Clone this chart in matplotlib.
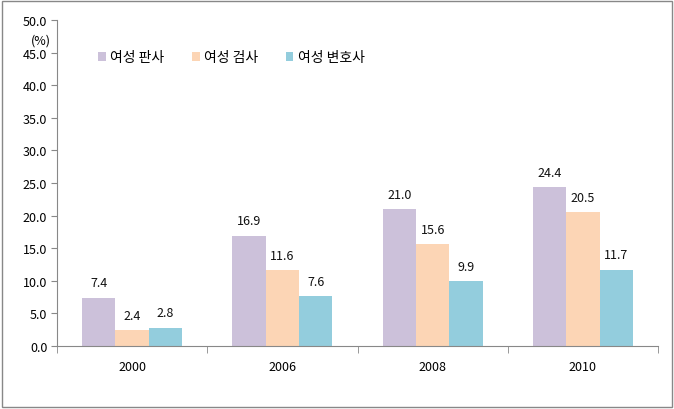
"""Women's share among judges, prosecutors and lawyers, grouped bar chart."""

import matplotlib

matplotlib.use("Agg")

import matplotlib.pyplot as plt
from matplotlib.patches import Rectangle
import numpy as np

plt.rcParams["font.family"] = ["Noto Sans CJK KR", "DejaVu Sans"]

years = ["2000", "2006", "2008", "2010"]
series_names = ["여성 판사", "여성 검사", "여성 변호사"]
judges = [7.4, 16.9, 21.0, 24.4]
prosecutors = [2.4, 11.6, 15.6, 20.5]
lawyers = [2.8, 7.6, 9.9, 11.7]
colors = ["#CCC1DA", "#FCD5B5", "#93CDDD"]
y_ticks = [0, 5, 10, 15, 20, 25, 30, 35, 40, 45, 50]

fig = plt.figure(figsize=(6.74, 4.10), dpi=100)
ax = fig.add_axes([0.0846, 0.1537, 0.8917, 0.7951])

x = np.arange(len(years))
width = 0.222
for i, (values, name) in enumerate(zip([judges, prosecutors, lawyers], series_names)):
    offset = (i - 1) * width
    bars = ax.bar(x + offset, values, width, color=colors[i], label=name)
    for bar, v in zip(bars, values):
        ax.annotate(f"{v:.1f}", (bar.get_x() + bar.get_width() / 2, v),
                    xytext=(0, 6), textcoords="offset points",
                    ha="center", va="bottom", fontsize=9, color="#111111")

ax.set_xlim(-0.5, len(years) - 0.5)
ax.set_ylim(0, 50)
ax.set_yticks(y_ticks)
ax.set_yticklabels([f"{t:.1f}" for t in y_ticks], fontsize=9)

# category labels centred, tick marks on category boundaries
ax.set_xticks(x)
ax.set_xticklabels(years, fontsize=9)
ax.tick_params(axis="x", length=0, pad=10)
ax.set_xticks(np.arange(len(years) + 1) - 0.5, minor=True)
ax.tick_params(axis="x", which="minor", length=5, color="#888888")
ax.tick_params(axis="y", length=4, color="#888888", pad=3)

for side in ["top", "right"]:
    ax.spines[side].set_visible(False)
for side in ["left", "bottom"]:
    ax.spines[side].set_color("#888888")

ax.text(-0.01, 0.94, "(%)", transform=ax.transAxes, ha="right", va="center", fontsize=9)

ax.legend(loc="center left", bbox_to_anchor=(0.048, 0.885), ncol=3, frameon=False,
          handlelength=0.55, handleheight=0.55, handletextpad=0.3, columnspacing=2.0,
          fontsize=10)

fig.patches.append(Rectangle((0.003, 0.005), 0.994, 0.99, transform=fig.transFigure,
                             fill=False, edgecolor="#888888", linewidth=1))

fig.savefig("out.png", dpi=100)
plt.close(fig)
